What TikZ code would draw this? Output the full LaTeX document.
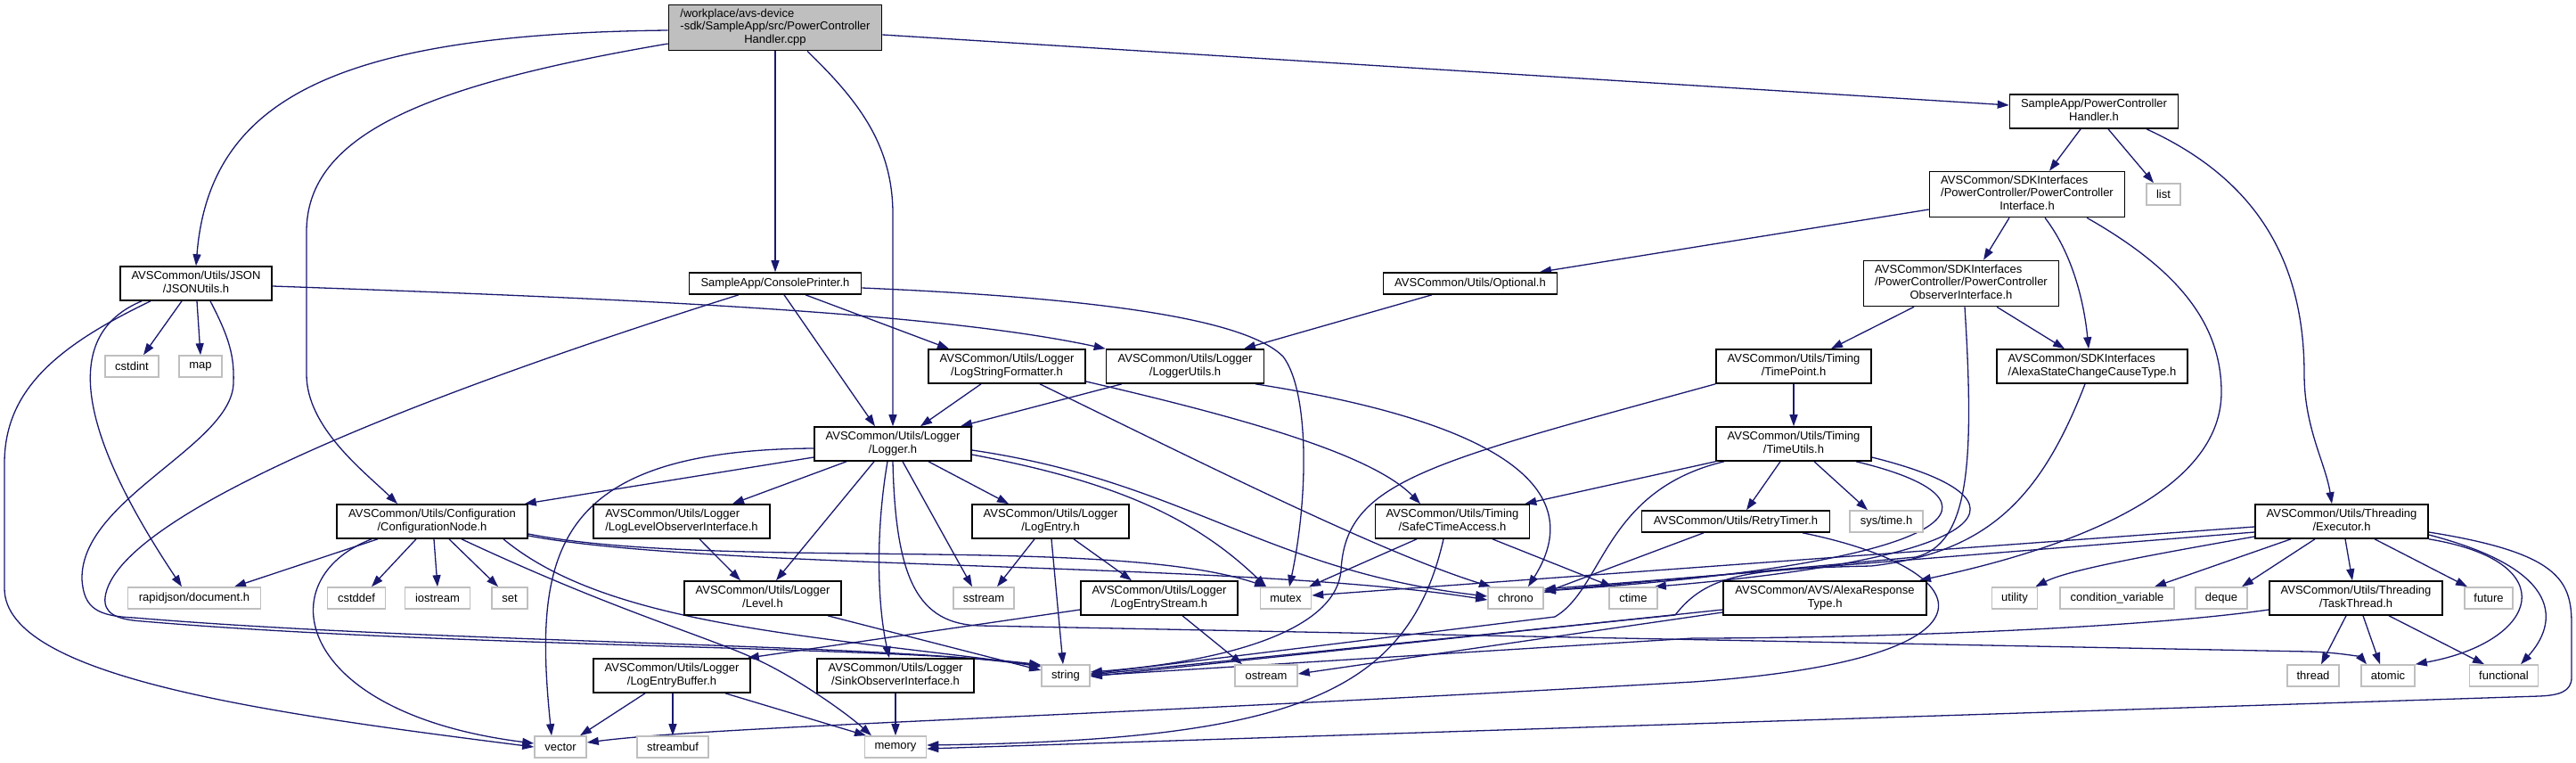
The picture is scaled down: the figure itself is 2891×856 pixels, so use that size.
\documentclass[tikz,border=0pt]{standalone}
\usepackage{fontspec}
\setmainfont{Liberation Sans}
\usepackage{tikz}
\usetikzlibrary{arrows.meta, backgrounds}
\definecolor{edgeblue}{RGB}{25, 25, 112}
\definecolor{sysgray}{RGB}{191, 191, 191}
\definecolor{rootgray}{RGB}{191, 191, 191}
\newcommand{\twoline}[2]{\begin{tabular}{@{}l@{}}#1\\\multicolumn{1}{@{}c@{}}{#2}\end{tabular}}
\newcommand{\threeline}[3]{\begin{tabular}{@{}l@{}}#1\\#2\\\multicolumn{1}{@{}c@{}}{#3}\end{tabular}}

\begin{document}
\begin{tikzpicture}[x=1pt, y=1pt,
  font=\fontsize{13}{14.5}\selectfont,
  hdr/.style={draw=black, fill=white, line width=1.6pt, inner sep=0pt, minimum height=38pt},
  sys/.style={draw=sysgray, fill=white, line width=1.6pt, inner sep=0pt, minimum height=24pt},
  dep/.style={draw=edgeblue, line width=1.3pt, -{Triangle[length=13pt, width=9pt]}}]
  \useasboundingbox (0,0) rectangle (2891,-856);

  % headers, row by row
  \node[hdr, fill=rootgray, minimum width=239pt, minimum height=51pt] (root) at (870,-31) {\threeline{/workplace/avs-device}{-sdk/SampleApp/src/PowerController}{Handler.cpp}};
  \node[hdr, minimum width=189pt] (pch) at (2350,-125) {\twoline{SampleApp/PowerController}{Handler.h}};
  \node[hdr, minimum width=219pt, minimum height=51pt] (pci) at (2275,-218) {\threeline{AVSCommon/SDKInterfaces}{/PowerController/PowerController}{Interface.h}};
  \node[sys, minimum width=38pt] (list) at (2428,-218) {list};
  \node[hdr, minimum width=170pt] (json) at (220,-318) {\twoline{AVSCommon/Utils/JSON}{/JSONUtils.h}};
  \node[hdr, minimum width=193pt, minimum height=24pt] (cprint) at (870,-318) {SampleApp/ConsolePrinter.h};
  \node[hdr, minimum width=195pt, minimum height=24pt] (opt) at (1650,-318) {AVSCommon/Utils/Optional.h};
  \node[hdr, minimum width=219pt, minimum height=51pt] (pco) at (2201,-318) {\threeline{AVSCommon/SDKInterfaces}{/PowerController/PowerController}{ObserverInterface.h}};
  \node[sys, minimum width=60pt] (cstdint) at (148,-411) {cstdint};
  \node[sys, minimum width=48pt] (map) at (225,-411) {map};
  \node[hdr, minimum width=176pt] (lsf) at (1130,-411) {\twoline{AVSCommon/Utils/Logger}{/LogStringFormatter.h}};
  \node[hdr, minimum width=177pt] (lut) at (1330,-411) {\twoline{AVSCommon/Utils/Logger}{/LoggerUtils.h}};
  \node[hdr, minimum width=174pt] (tpt) at (2013,-411) {\twoline{AVSCommon/Utils/Timing}{/TimePoint.h}};
  \node[hdr, minimum width=214pt] (ascct) at (2348,-411) {\twoline{AVSCommon/SDKInterfaces}{/AlexaStateChangeCauseType.h}};
  \node[hdr, minimum width=176pt] (logger) at (1002,-498) {\twoline{AVSCommon/Utils/Logger}{/Logger.h}};
  \node[hdr, minimum width=174pt] (tutil) at (2013,-498) {\twoline{AVSCommon/Utils/Timing}{/TimeUtils.h}};
  \node[hdr, minimum width=214pt] (cfg) at (485,-585) {\twoline{AVSCommon/Utils/Configuration}{/ConfigurationNode.h}};
  \node[hdr, minimum width=198pt] (llo) at (765,-585) {\twoline{AVSCommon/Utils/Logger}{/LogLevelObserverInterface.h}};
  \node[hdr, minimum width=176pt] (lent) at (1179,-585) {\twoline{AVSCommon/Utils/Logger}{/LogEntry.h}};
  \node[hdr, minimum width=173pt] (sct) at (1630,-585) {\twoline{AVSCommon/Utils/Timing}{/SafeCTimeAccess.h}};
  \node[hdr, minimum width=211pt, minimum height=24pt] (rtim) at (1948,-585) {AVSCommon/Utils/RetryTimer.h};
  \node[sys, minimum width=82pt] (systime) at (2117,-585) {sys/time.h};
  \node[hdr, minimum width=194pt] (exec) at (2628,-585) {\twoline{AVSCommon/Utils/Threading}{/Executor.h}};
  \node[sys, minimum width=149pt] (rapid) at (218,-671) {rapidjson/document.h};
  \node[sys, minimum width=65pt] (cstddef) at (400,-671) {cstddef};
  \node[sys, minimum width=73pt] (iostream) at (491,-671) {iostream};
  \node[sys, minimum width=40pt] (set) at (572,-671) {set};
  \node[hdr, minimum width=176pt] (level) at (856,-671) {\twoline{AVSCommon/Utils/Logger}{/Level.h}};
  \node[sys, minimum width=68pt] (sstream) at (1104,-671) {sstream};
  \node[hdr, minimum width=176pt] (lestream) at (1301,-671) {\twoline{AVSCommon/Utils/Logger}{/LogEntryStream.h}};
  \node[sys, minimum width=57pt] (mutex) at (1443,-671) {mutex};
  \node[sys, minimum width=62pt] (chrono) at (1701,-671) {chrono};
  \node[sys, minimum width=54pt] (ctime) at (1833,-671) {ctime};
  \node[hdr, minimum width=228pt] (art) at (2048,-671) {\twoline{AVSCommon/AVS/AlexaResponse}{Type.h}};
  \node[sys, minimum width=51pt] (utility) at (2261,-671) {utility};
  \node[sys, minimum width=128pt] (condvar) at (2376,-671) {condition\_variable};
  \node[sys, minimum width=58pt] (deque) at (2493,-671) {deque};
  \node[hdr, minimum width=194pt] (tthread) at (2644,-671) {\twoline{AVSCommon/Utils/Threading}{/TaskThread.h}};
  \node[sys, minimum width=54pt] (future) at (2793,-671) {future};
  \node[hdr, minimum width=176pt] (lebuf) at (754,-758) {\twoline{AVSCommon/Utils/Logger}{/LogEntryBuffer.h}};
  \node[hdr, minimum width=176pt] (sink) at (1005,-758) {\twoline{AVSCommon/Utils/Logger}{/SinkObserverInterface.h}};
  \node[sys, minimum width=54pt] (string) at (1196,-758) {string};
  \node[sys, minimum width=70pt] (ostream) at (1421,-758) {ostream};
  \node[sys, minimum width=58pt] (thread) at (2596,-758) {thread};
  \node[sys, minimum width=60pt] (atomic) at (2680,-758) {atomic};
  \node[sys, minimum width=77pt] (functional) at (2810,-758) {functional};
  \node[sys, minimum width=58pt] (vector) at (629,-838) {vector};
  \node[sys, minimum width=80pt] (streambuf) at (755,-838) {streambuf};
  \node[sys, minimum width=69pt] (memory) at (1005,-838) {memory};

  \begin{scope}[on background layer]
  \fill[white] (0,0) rectangle (2891,-856);
  % includes of the .cpp
  \draw[dep] ([yshift=-3pt]root.west) .. controls (380,-38) and (235,-110) .. (json.north);
  \draw[dep] ([yshift=-18pt]root.west) .. controls (480,-95) and (344,-150) .. (344,-260) -- (344,-420) .. controls (344,-480) and (410,-530) .. ([xshift=-39pt]cfg.north);
  \draw[dep] (root.south) -- (cprint.north);
  \draw[dep] ([xshift=36pt]root.south) .. controls (960,-110) and (1002,-160) .. (1002,-240) -- (logger.north);
  \draw[dep] ([yshift=-8pt]root.east) -- ([yshift=7pt]pch.west);
  % power controller
  \draw[dep] ([xshift=-15pt]pch.south) -- ([xshift=25pt]pci.north);
  \draw[dep] ([xshift=16pt]pch.south) -- ([xshift=-11pt]list.north);
  \draw[dep] ([xshift=59pt]pch.south) .. controls (2530,-200) and (2586,-290) .. (2586,-420) .. controls (2586,-480) and (2610,-520) .. ([xshift=-11pt]exec.north);
  \draw[dep] ([yshift=-17pt]pci.west) -- ([xshift=78pt]opt.north);
  \draw[dep] ([xshift=-20pt]pci.south) -- ([xshift=25pt]pco.north);
  \draw[dep] ([xshift=20pt]pci.south) .. controls (2330,-290) and (2340,-350) .. ([xshift=-4pt]ascct.north);
  \draw[dep] ([xshift=67pt]pci.south) .. controls (2440,-300) and (2493,-360) .. (2493,-440) .. controls (2493,-560) and (2300,-620) .. ([xshift=106pt]art.north);
  \draw[dep] ([xshift=-53pt]pco.south) -- ([xshift=42pt]tpt.north);
  \draw[dep] ([xshift=40pt]pco.south) -- ([xshift=-31pt]ascct.north);
  \draw[dep] ([xshift=4pt]pco.south) .. controls (2216,-520) and (2210,-610) .. (2150,-625) -- ([yshift=8pt]chrono.east);
  \draw[dep] ([xshift=-43pt]opt.south) -- ([xshift=66pt]lut.north);
  \draw[dep] ([xshift=-8pt]ascct.south) .. controls (2290,-560) and (2230,-620) .. (2100,-635) .. controls (1960,-638) and (1915,-645) .. (1880,-690) -- ([yshift=1pt]string.east);
  % json and console printer
  \draw[dep] ([xshift=-16pt]json.south) -- ([xshift=13pt]cstdint.north);
  \draw[dep] ([xshift=1pt]json.south) -- (map.north);
  \draw[dep] ([xshift=-61pt]json.south) .. controls (70,-375) and (85,-480) .. ([xshift=-14pt]rapid.north);
  \draw[dep] ([xshift=-51pt]json.south) .. controls (60,-390) and (5,-440) .. (5,-520) -- (5,-660) .. controls (5,-760) and (300,-800) .. (vector.west);
  \draw[dep] ([xshift=16pt]json.south) .. controls (258,-380) and (263,-400) .. (262,-430) .. controls (260,-500) and (90,-560) .. (92,-650) .. controls (94,-683) and (110,-691) .. (150,-693) .. controls (500,-722) and (1000,-722) .. ([yshift=10pt]string.west);
  \draw[dep] ([yshift=-3pt]json.east) .. controls (700,-335) and (1050,-350) .. (lut.north west);
  \draw[dep] ([xshift=10pt]cprint.south) -- ([xshift=-20pt]logger.north);
  \draw[dep] ([xshift=34pt]cprint.south) -- ([xshift=-65pt]lsf.north);
  \draw[dep] ([yshift=-5pt]cprint.east) .. controls (1250,-335) and (1400,-360) .. (1440,-400) .. controls (1470,-440) and (1468,-560) .. ([xshift=4pt]mutex.north);
  \draw[dep] ([xshift=-41pt]cprint.south) .. controls (450,-450) and (130,-580) .. (118,-670) .. controls (116,-688) and (130,-695) .. (160,-697) .. controls (500,-726) and (1000,-725) .. ([yshift=12pt]string.west);
  % logger helpers
  \draw[dep] ([xshift=-29pt]lsf.south) -- ([xshift=31pt]logger.north);
  \draw[dep] ([xshift=37pt]lsf.south) .. controls (1350,-520) and (1550,-620) .. ([xshift=-28pt]chrono.north);
  \draw[dep] ([yshift=-17pt]lsf.east) .. controls (1400,-470) and (1540,-510) .. ([xshift=-36pt]sct.north);
  \draw[dep] ([xshift=-71pt]lut.south) -- ([xshift=76pt]logger.north);
  \draw[dep] ([xshift=79pt]lut.south) .. controls (1660,-470) and (1790,-540) .. ([xshift=14pt]chrono.north);
  % timing
  \draw[dep] (tpt.south) -- (tutil.north);
  \draw[dep] (tpt.south west) .. controls (1600,-520) and (1510,-540) .. (1505,-640) .. controls (1500,-700) and (1400,-740) .. ([yshift=4pt]string.east);
  \draw[dep] (tutil.south west) -- ([xshift=-6pt]sct.north east);
  \draw[dep] ([xshift=-15pt]tutil.south) -- ([xshift=12pt]rtim.north);
  \draw[dep] ([xshift=23pt]tutil.south) -- ([xshift=-21pt]systime.north);
  \draw[dep] ([xshift=-78pt]tutil.south) .. controls (1800,-550) and (1800,-660) .. (1745,-692) -- ([yshift=2pt]string.east);
  \draw[dep] ([xshift=70pt]tutil.south) .. controls (2260,-560) and (2220,-630) .. ([yshift=8pt]chrono.east);
  \draw[dep] ([yshift=-15pt]tutil.east) .. controls (2290,-560) and (2250,-625) .. ([xshift=-4pt]ctime.north east);
  \draw[dep] ([xshift=-40pt]sct.south) -- ([xshift=26pt]mutex.north);
  \draw[dep] ([xshift=45pt]sct.south) -- ([xshift=4pt]ctime.north west);
  \draw[dep] ([xshift=-10pt]sct.south) .. controls (1580,-780) and (1450,-830) .. ([yshift=2pt]memory.east);
  \draw[dep] ([xshift=-36pt]rtim.south) -- ([yshift=6pt]chrono.east);
  \draw[dep] ([xshift=75pt]rtim.south) .. controls (2230,-640) and (2260,-740) .. (1900,-765) .. controls (1200,-805) and (800,-815) .. ([yshift=5pt]vector.east);
  % threading
  \draw[dep] ([yshift=-6pt]exec.west) -- ([yshift=3pt]mutex.east);
  \draw[dep] ([yshift=-12pt]exec.west) -- ([yshift=10pt]chrono.east);
  \draw[dep] ([yshift=-17pt]exec.west) .. controls (2400,-625) and (2320,-640) .. ([xshift=-3pt]utility.north east);
  \draw[dep] ([xshift=-57pt]exec.south) -- ([xshift=42pt]condvar.north);
  \draw[dep] ([xshift=-30pt]exec.south) -- ([xshift=23pt]deque.north);
  \draw[dep] ([xshift=4pt]exec.south) -- ([xshift=-4pt]tthread.north);
  \draw[dep] ([xshift=37pt]exec.south) -- ([xshift=-24pt]future.north);
  \draw[dep] (exec.south east) .. controls (2880,-630) and (2850,-720) .. (atomic.north east);
  \draw[dep] ([yshift=-15pt]exec.east) .. controls (2880,-640) and (2870,-700) .. ([xshift=19pt]functional.north);
  \draw[dep] ([yshift=-12pt]exec.east) .. controls (2870,-620) and (2886,-650) .. (2886,-700) -- (2886,-760) .. controls (2886,-776) and (2872,-780) .. (2850,-781) -- ([yshift=-2pt]memory.east);
  \draw[dep] ([xshift=-11pt]tthread.south) -- ([xshift=9pt]thread.north);
  \draw[dep] ([xshift=8pt]tthread.south) -- ([xshift=-9pt]atomic.north);
  \draw[dep] ([xshift=37pt]tthread.south) -- ([xshift=-22pt]functional.north);
  \draw[dep] ([yshift=-13pt]tthread.west) .. controls (2400,-705) and (2100,-716) .. (1900,-716) -- (string.east);
  \draw[dep] ([yshift=-13pt]art.west) -- ([yshift=-1pt]string.east);
  \draw[dep] ([yshift=-16pt]art.west) -- ([yshift=2pt]ostream.east);
  % logger
  \draw[dep] ([yshift=-15pt]logger.west) -- ([xshift=-4pt]cfg.north east);
  \draw[dep] ([yshift=-5pt]logger.west) .. controls (620,-505) and (598,-620) .. ([xshift=-10pt]vector.north);
  \draw[dep] ([xshift=-52pt]logger.south) -- ([xshift=57pt]llo.north);
  \draw[dep] ([xshift=-21pt]logger.south) -- ([xshift=15pt]level.north);
  \draw[dep] ([xshift=-6pt]logger.south) .. controls (982,-600) and (985,-680) .. ([xshift=-7pt]sink.north);
  \draw[dep] ([xshift=11pt]logger.south) -- ([xshift=-13pt]sstream.north);
  \draw[dep] ([xshift=40pt]logger.south) -- ([xshift=-47pt]lent.north);
  \draw[dep] (logger.south) .. controls (1005,-650) and (1030,-700) .. (1100,-702) -- (2590,-731) .. controls (2630,-732) and (2650,-738) .. ([xshift=-24pt]atomic.north);
  \draw[dep] ([yshift=-12pt]logger.east) .. controls (1250,-540) and (1340,-580) .. ([xshift=-22pt]mutex.north);
  \draw[dep] ([yshift=-7pt]logger.east) .. controls (1330,-540) and (1420,-640) .. ([yshift=2pt]chrono.west);
  % configuration node
  \draw[dep] ([xshift=-61pt]cfg.south) -- ([xshift=45pt]rapid.north);
  \draw[dep] ([xshift=-68pt]cfg.south) .. controls (300,-650) and (330,-800) .. ([yshift=4pt]vector.west);
  \draw[dep] ([xshift=-18pt]cfg.south) -- ([xshift=17pt]cstddef.north);
  \draw[dep] ([xshift=2pt]cfg.south) -- (iostream.north);
  \draw[dep] ([xshift=19pt]cfg.south) -- ([xshift=-13pt]set.north);
  \draw[dep] ([xshift=33pt]cfg.south) .. controls (700,-690) and (800,-715) .. (860,-745) .. controls (900,-765) and (950,-800) .. ([xshift=-27pt]memory.north);
  \draw[dep] ([xshift=80pt]cfg.south) .. controls (680,-700) and (900,-712) .. ([yshift=11pt]string.west);
  \draw[dep] ([yshift=-14pt]cfg.east) .. controls (800,-640) and (1250,-600) .. ([xshift=-22pt]mutex.north);
  \draw[dep] ([yshift=-16pt]cfg.east) .. controls (800,-640) and (1400,-630) .. ([yshift=-2pt]chrono.west);
  % lower logger headers
  \draw[dep] ([xshift=20pt]llo.south) -- ([xshift=-25pt]level.north);
  \draw[dep] ([xshift=73pt]level.south) -- ([yshift=6pt]string.west);
  \draw[dep] ([xshift=-18pt]lent.south) -- ([xshift=15pt]sstream.north);
  \draw[dep] ([xshift=1pt]lent.south) -- ([xshift=-3pt]string.north);
  \draw[dep] ([xshift=26pt]lent.south) -- ([xshift=-31pt]lestream.north);
  \draw[dep] ([yshift=-13pt]lestream.west) -- ([xshift=-4pt]lebuf.north east);
  \draw[dep] ([xshift=26pt]lestream.south) -- ([xshift=-27pt]ostream.north);
  \draw[dep] ([xshift=-30pt]lebuf.south) -- ([xshift=22pt]vector.north);
  \draw[dep] ([xshift=1pt]lebuf.south) -- (streambuf.north);
  \draw[dep] ([xshift=60pt]lebuf.south) -- ([xshift=-33pt]memory.north);
  \draw[dep] (sink.south) -- (memory.north);
  \end{scope}
\end{tikzpicture}
\end{document}
